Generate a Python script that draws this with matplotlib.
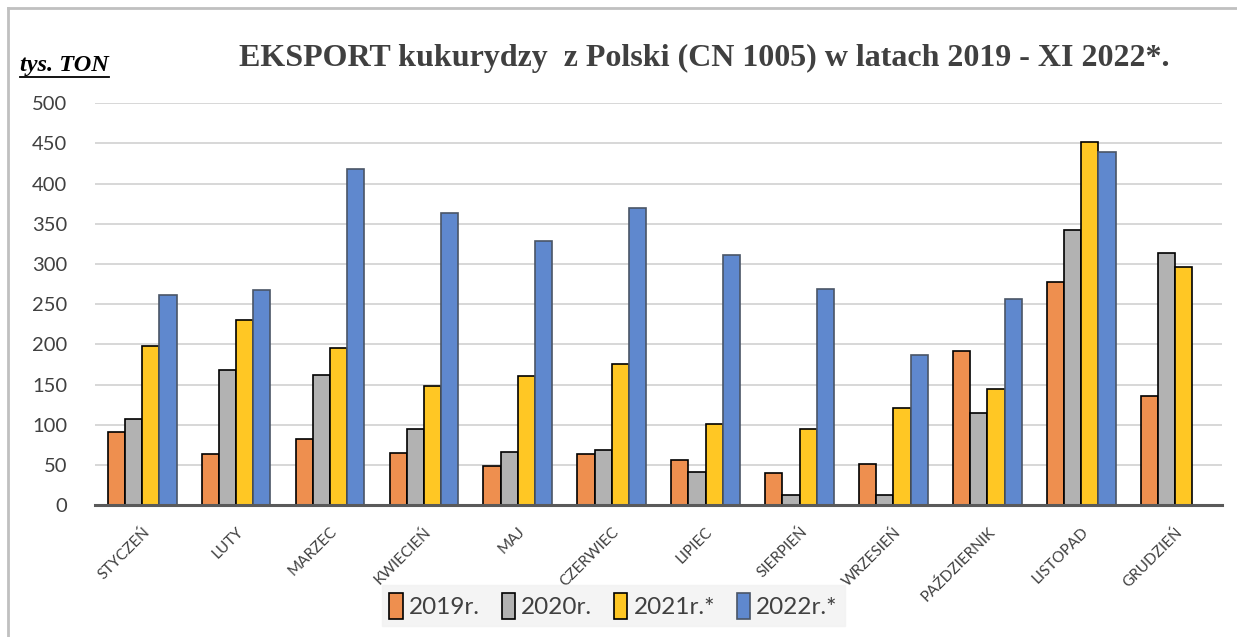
import numpy as np
import matplotlib
matplotlib.use('Agg')
import matplotlib.pyplot as plt
from matplotlib.lines import Line2D

months = ["STYCZEŃ", "LUTY", "MARZEC", "KWIECIEŃ", "MAJ", "CZERWIEC",
          "LIPIEC", "SIERPIEŃ", "WRZESIEŃ", "PAŹDZIERNIK", "LISTOPAD", "GRUDZIEŃ"]
series_names = ["2019r.", "2020r.", "2021r.*", "2022r.*"]
v2019 = [91, 64, 82, 65, 49, 64, 56, 40, 51, 192, 278, 136]
v2020 = [107, 168, 162, 95, 66, 68, 41, 12, 12, 114, 342, 314]
v2021 = [198, 230, 196, 148, 161, 175, 101, 95, 121, 145, 452, 296]
v2022 = [262, 268, 418, 364, 328, 370, 311, 269, 187, 256, 439, np.nan]
yticks = [0, 50, 100, 150, 200, 250, 300, 350, 400, 450, 500]

colors = ["#EE8F4F", "#B2B2B2", "#FFC724", "#5F88CE"]
edges = ["black", "black", "black", "#4a5566"]

fig = plt.figure(figsize=(12.37, 6.37), dpi=100)
ax = fig.add_axes([0.077, 0.207, 0.911, 0.631])

x = np.arange(len(months))
w = 0.183
for i, (vals, name) in enumerate(zip([v2019, v2020, v2021, v2022], series_names)):
    ax.bar(x + (i - 1.5) * w, vals, width=w, color=colors[i],
           edgecolor=edges[i], linewidth=1.2, label=name, zorder=3)

ax.set_xlim(-0.5, len(months) - 0.5)
ax.set_ylim(0, 500)
ax.set_yticks(yticks)
ax.yaxis.grid(True, color="#d4d4d4", linewidth=1.3, zorder=0)
for s in ["top", "right", "left"]:
    ax.spines[s].set_visible(False)
ax.spines["bottom"].set_color("#5a5a5a")
ax.spines["bottom"].set_linewidth(2.2)
ax.spines["bottom"].set_zorder(4)
ax.tick_params(axis="both", length=0)
ax.tick_params(axis="y", labelsize=14.5, labelcolor="#404040", pad=20)
ax.set_xticks(x)
ax.set_xticklabels(months, rotation=45, ha="right", rotation_mode="anchor",
                   fontsize=11, color="#404040", family="Lato")
ax.tick_params(axis="x", pad=14)
for lab in ax.get_yticklabels():
    lab.set_family("Lato")

fig.text(0.569, 0.908, "EKSPORT kukurydzy  z Polski (CN 1005) w latach 2019 - XI 2022*.",
         ha="center", va="center", fontsize=23, fontweight="bold",
         family="Liberation Serif", color="#404040")
fig.text(0.016, 0.897, "tys. TON", ha="left", va="center", fontsize=17.5,
         fontweight="bold", fontstyle="italic", family="Liberation Serif", color="black")
fig.add_artist(Line2D([0.016, 0.088], [0.879, 0.879], color="black", linewidth=1.3))

# frame of the chart
fig.add_artist(Line2D([0.0065, 1.0], [0.988, 0.988], color="#c0c0c0", linewidth=2))
fig.add_artist(Line2D([0.0065, 0.0065], [0.0, 0.988], color="#c0c0c0", linewidth=2))

leg = fig.legend(loc="center", bbox_to_anchor=(0.496, 0.049), ncol=4, frameon=True,
                 handlelength=0.55, handleheight=1.3, handletextpad=0.25,
                 columnspacing=0.9, borderpad=0.3, fancybox=False,
                 prop={"family": "Lato", "size": 17.5})
leg.get_frame().set_facecolor("#f2f2f2")
leg.get_frame().set_edgecolor("#f2f2f2")
for t in leg.get_texts():
    t.set_color("#404040")

fig.savefig("out.png", dpi=100, facecolor="white")
